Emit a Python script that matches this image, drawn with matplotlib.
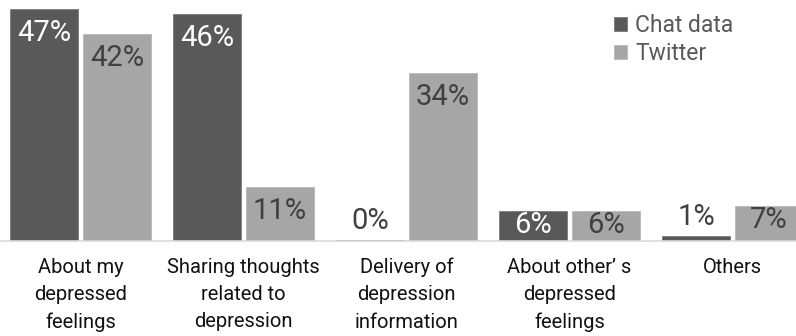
import matplotlib
matplotlib.use("Agg")
import matplotlib.pyplot as plt
import numpy as np

categories = ["About my\ndepressed\nfeelings", "Sharing thoughts\nrelated to\ndepression",
              "Delivery of\ndepression\ninformation", "About other’ s\ndepressed\nfeelings", "Others"]
chat = [47, 46, 0.3, 6, 1]
twitter = [42, 11, 34, 6, 7]
chat_labels = ["47%", "46%", "0%", "6%", "1%"]
twitter_labels = ["42%", "11%", "34%", "6%", "7%"]
series_names = ["Chat data", "Twitter"]

FONT = ["Roboto", "Liberation Sans", "DejaVu Sans"]
plt.rcParams["font.family"] = FONT

W, H = 796, 336
fig = plt.figure(figsize=(W / 100, H / 100), dpi=100)
ppp = 4.93  # px per percent
ymax = 48
ax = fig.add_axes([-1 / W, 95 / H, 815 / W, ymax * ppp / H])

x = np.arange(len(categories))
bw = 68 / 163
off = 73 / 2 / 163
c_dark = "#595959"
c_light = "#A6A6A6"
ax.bar(x - off, chat, bw, color=c_dark, edgecolor="#7a7a7a", linewidth=0.6, label=series_names[0])
ax.bar(x + off, twitter, bw, color=c_light, edgecolor="#b8b8b8", linewidth=0.6, label=series_names[1])

ax.set_xlim(-0.5, len(categories) - 0.5)
ax.set_ylim(0, ymax)
for s in ["top", "right", "left"]:
    ax.spines[s].set_visible(False)
ax.spines["bottom"].set_color("#D9D9D9")
ax.spines["bottom"].set_linewidth(1.2)
ax.set_yticks([])
ax.set_xticks(x)
ax.set_xticklabels(categories, fontsize=14.5, color="#111111", linespacing=1.55)
ax.tick_params(axis="x", length=0, pad=12)

def put(xp, v, lab, inside_color):
    if v >= 10:
        dy, col = -24 * 0.72, inside_color
    elif v >= 5:
        dy, col = -14 * 0.72, inside_color
    else:
        dy, col = 19 * 0.72, "#404040"
    ax.annotate(lab, (xp, v), xytext=(0, dy), textcoords="offset points",
                ha="center", va="center", fontsize=21, color=col)

for i in range(len(categories)):
    put(x[i] - off, chat[i], chat_labels[i], "white")
    put(x[i] + off, twitter[i], twitter_labels[i], "#404040")

leg = fig.legend(loc="upper left", bbox_to_anchor=(603 / W, 1 - 3 / H), frameon=False,
                 fontsize=16.5, handlelength=0.55, handleheight=0.55, handletextpad=0.35,
                 labelspacing=0.22, borderpad=0)
for t in leg.get_texts():
    t.set_color("#595959")

fig.savefig("out.png", dpi=100)
